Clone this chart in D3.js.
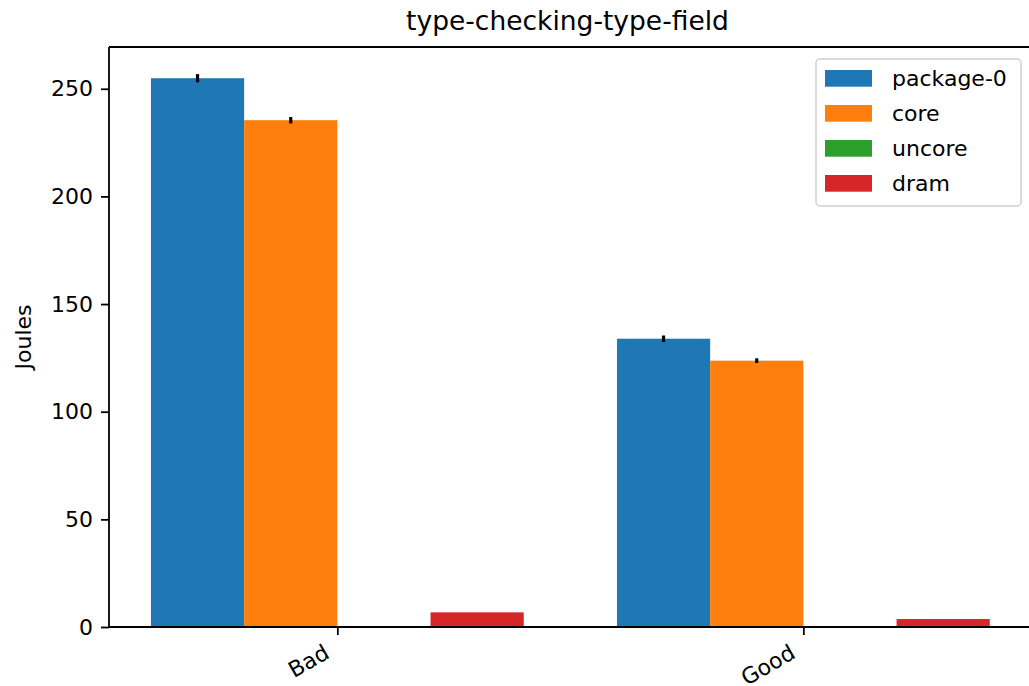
<!DOCTYPE html>
<html>
<head>
<meta charset="utf-8">
<script src="https://cdn.jsdelivr.net/npm/d3@7"></script>
<style>
  body { margin: 0; background: #fff; }
  svg { font-family: "DejaVu Sans", sans-serif; }
</style>
</head>
<body>
<svg id="vis" width="1029" height="686"></svg>
<script>
const categories = ['Bad', 'Good']
const seriesNames = ['package-0', 'core', 'uncore', 'dram']
const colors = ['#1f77b4', '#ff7f0e', '#2ca02c', '#d62728']
// values per series, one entry per category
const package0 = [254.9, 133.9]
const core = [235.4, 123.7]
const uncore = [0, 0]
const dram = [6.8, 3.7]
const package0Err = [1.9, 1.5]
const coreErr = [1.5, 1.1]
const uncoreErr = [0, 0]
const dramErr = [0, 0]
const yTicks = [0, 50, 100, 150, 200, 250]

const values = [package0, core, uncore, dram]
const errors = [package0Err, coreErr, uncoreErr, dramErr]
const barWidth = 0.2

const svg = d3.select('#vis')
const plotLeft = 109, plotTop = 47, plotRight = 1031.7, plotBottom = 627

const x = d3.scaleLinear().domain([-0.49, 1.49]).range([plotLeft, plotRight])
const y = d3.scaleLinear().domain([0, 269.4]).range([plotBottom, plotTop])

const bars = []
values.forEach((vals, s) => {
  vals.forEach((v, c) => {
    bars.push({ s, c, v, err: errors[s][c], x0: c + (s - 2) * barWidth })
  })
})

svg.append('g')
  .selectAll('rect')
  .data(bars)
  .enter()
  .append('rect')
  .attr('x', d => x(d.x0))
  .attr('width', d => x(d.x0 + barWidth) - x(d.x0))
  .attr('y', d => y(d.v))
  .attr('height', d => y(0) - y(d.v))
  .attr('fill', d => colors[d.s])

svg.append('g')
  .selectAll('line')
  .data(bars.filter(d => d.err > 0))
  .enter()
  .append('line')
  .attr('x1', d => x(d.x0 + barWidth / 2))
  .attr('x2', d => x(d.x0 + barWidth / 2))
  .attr('y1', d => y(d.v - d.err))
  .attr('y2', d => y(d.v + d.err))
  .attr('stroke', '#000')
  .attr('stroke-width', 3.2)

// y axis
const yAxis = svg.append('g')
  .attr('transform', `translate(${plotLeft},0)`)
  .call(d3.axisLeft(y).tickValues(yTicks).tickSize(8).tickPadding(8).tickSizeOuter(0))
yAxis.select('.domain').remove()
yAxis.selectAll('line').attr('stroke', '#000').attr('stroke-width', 1.8)
yAxis.selectAll('text').attr('font-size', 22).attr('fill', '#000')
  .attr('font-family', 'DejaVu Sans')

// x axis
const xAxis = svg.append('g')
  .attr('transform', `translate(0,${plotBottom})`)
  .call(d3.axisBottom(x).tickValues([0, 1]).tickFormat(i => categories[i]).tickSize(8).tickSizeOuter(0))
xAxis.select('.domain').remove()
xAxis.selectAll('line').attr('stroke', '#000').attr('stroke-width', 1.8)
xAxis.selectAll('text')
  .attr('font-size', 22)
  .attr('fill', '#000')
  .attr('font-family', 'DejaVu Sans')
  .attr('text-anchor', 'end')
  .attr('dy', null)
  .attr('y', null)
  .attr('transform', 'translate(-7,30) rotate(-30)')

// spines
const spine = svg.append('g').attr('stroke', '#000').attr('stroke-width', 1.8)
spine.append('line').attr('x1', plotLeft).attr('x2', plotLeft).attr('y1', plotTop).attr('y2', plotBottom)
spine.append('line').attr('x1', plotLeft).attr('x2', plotRight).attr('y1', plotBottom).attr('y2', plotBottom)
spine.append('line').attr('x1', plotLeft).attr('x2', plotRight).attr('y1', plotTop).attr('y2', plotTop)
spine.append('line').attr('x1', plotRight).attr('x2', plotRight).attr('y1', plotTop).attr('y2', plotBottom)

// title and y label
svg.append('text')
  .attr('x', (plotLeft + 1026) / 2)
  .attr('y', 30)
  .attr('text-anchor', 'middle')
  .attr('font-size', 26.5)
  .text('type-checking-type-field')

svg.append('text')
  .attr('transform', `translate(31,${(plotTop + plotBottom) / 2}) rotate(-90)`)
  .attr('text-anchor', 'middle')
  .attr('font-size', 22)
  .text('Joules')

// legend
const legend = svg.append('g')
legend.append('rect')
  .attr('x', 816).attr('y', 59)
  .attr('width', 205).attr('height', 147)
  .attr('rx', 4)
  .attr('fill', '#fff').attr('fill-opacity', 0.8)
  .attr('stroke', '#d0d0d0').attr('stroke-width', 1.5)
const item = legend.selectAll('g.item')
  .data(seriesNames)
  .enter()
  .append('g')
  .attr('class', 'item')
  .attr('transform', (d, i) => `translate(0,${78.3 + i * 35})`)
item.append('rect')
  .attr('x', 825).attr('y', -8.3)
  .attr('width', 47).attr('height', 16.7)
  .attr('fill', (d, i) => colors[i])
item.append('text')
  .attr('x', 892).attr('y', 8)
  .attr('font-size', 22)
  .attr('fill', '#000')
  .text(d => d)
</script>
</body>
</html>
